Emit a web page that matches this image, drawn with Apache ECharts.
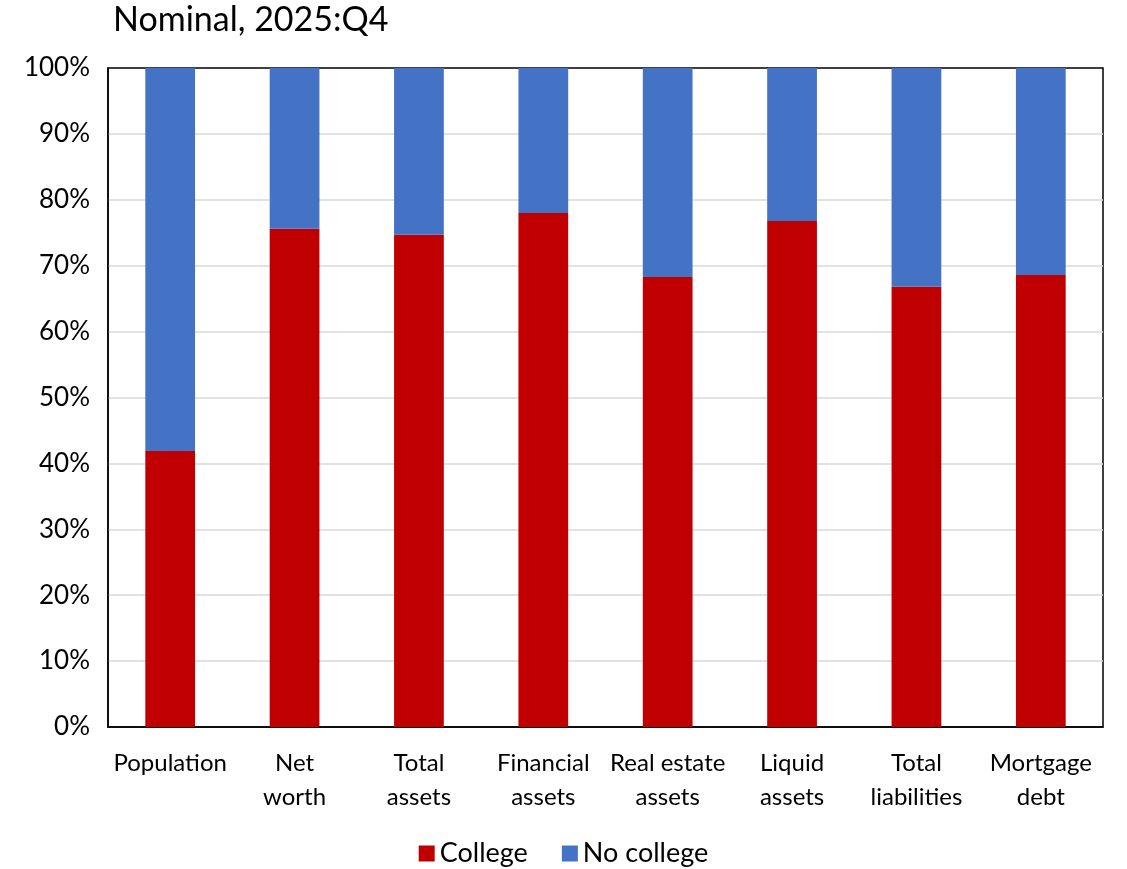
<!DOCTYPE html>
<html><head><meta charset="utf-8">
<script src="https://cdn.jsdelivr.net/npm/echarts@6/dist/echarts.min.js"></script>
<style>html,body{margin:0;padding:0;background:#fff}#c{width:1127px;height:869px}</style>
</head><body><div id="c"></div>
<script>
const categories = ["Population","Net\nworth","Total\nassets","Financial\nassets","Real estate\nassets","Liquid\nassets","Total\nliabilities","Mortgage\ndebt"];
const college = [41.9, 75.6, 74.7, 78.0, 68.3, 76.8, 66.8, 68.6];
const noCollege = college.map(v => +(100 - v).toFixed(1));
const yTicks = [0,10,20,30,40,50,60,70,80,90,100];
const FONT = "Lato, 'Open Sans', sans-serif";
const chart = echarts.init(document.getElementById('c'));
chart.setOption({
  animation:false,
  title:{text:"Nominal, 2025:Q4", left:108, top:-2, textStyle:{fontFamily:FONT, fontSize:34, fontWeight:'normal', color:'#000'}},
  grid:{left:108, right:24, top:68, bottom:142, show:true, borderColor:'#000', borderWidth:1.5, backgroundColor:'transparent'},
  legend:{bottom:-3, left:'center', itemWidth:16, itemHeight:16, itemGap:34, itemTextGap:12, icon:'rect',
    textStyle:{fontFamily:FONT, fontSize:27, color:'#000'}, data:['College','No college']},
  xAxis:{type:'category', data:categories, axisTick:{show:false}, axisLine:{show:true, lineStyle:{color:'#000', width:1.5}},
    axisLabel:{fontFamily:FONT, fontSize:24, color:'#000', margin:19, lineHeight:34, interval:0}},
  yAxis:{type:'value', min:0, max:100, interval:10, axisLine:{show:true, lineStyle:{color:'#000', width:1.5}}, axisTick:{show:false},
    axisLabel:{formatter:v=>v+'%', fontFamily:FONT, fontSize:26, color:'#000', margin:18},
    splitLine:{showMinLine:false, showMaxLine:false, lineStyle:{color:'#d9d9d9', width:1.5}}},
  series:[
    {name:'College', type:'bar', stack:'s', data:college, barWidth:'40%', itemStyle:{color:'#c00000'}},
    {name:'No college', type:'bar', stack:'s', data:noCollege, barWidth:'40%', itemStyle:{color:'#4472c4'}}
  ]
});
</script></body></html>
